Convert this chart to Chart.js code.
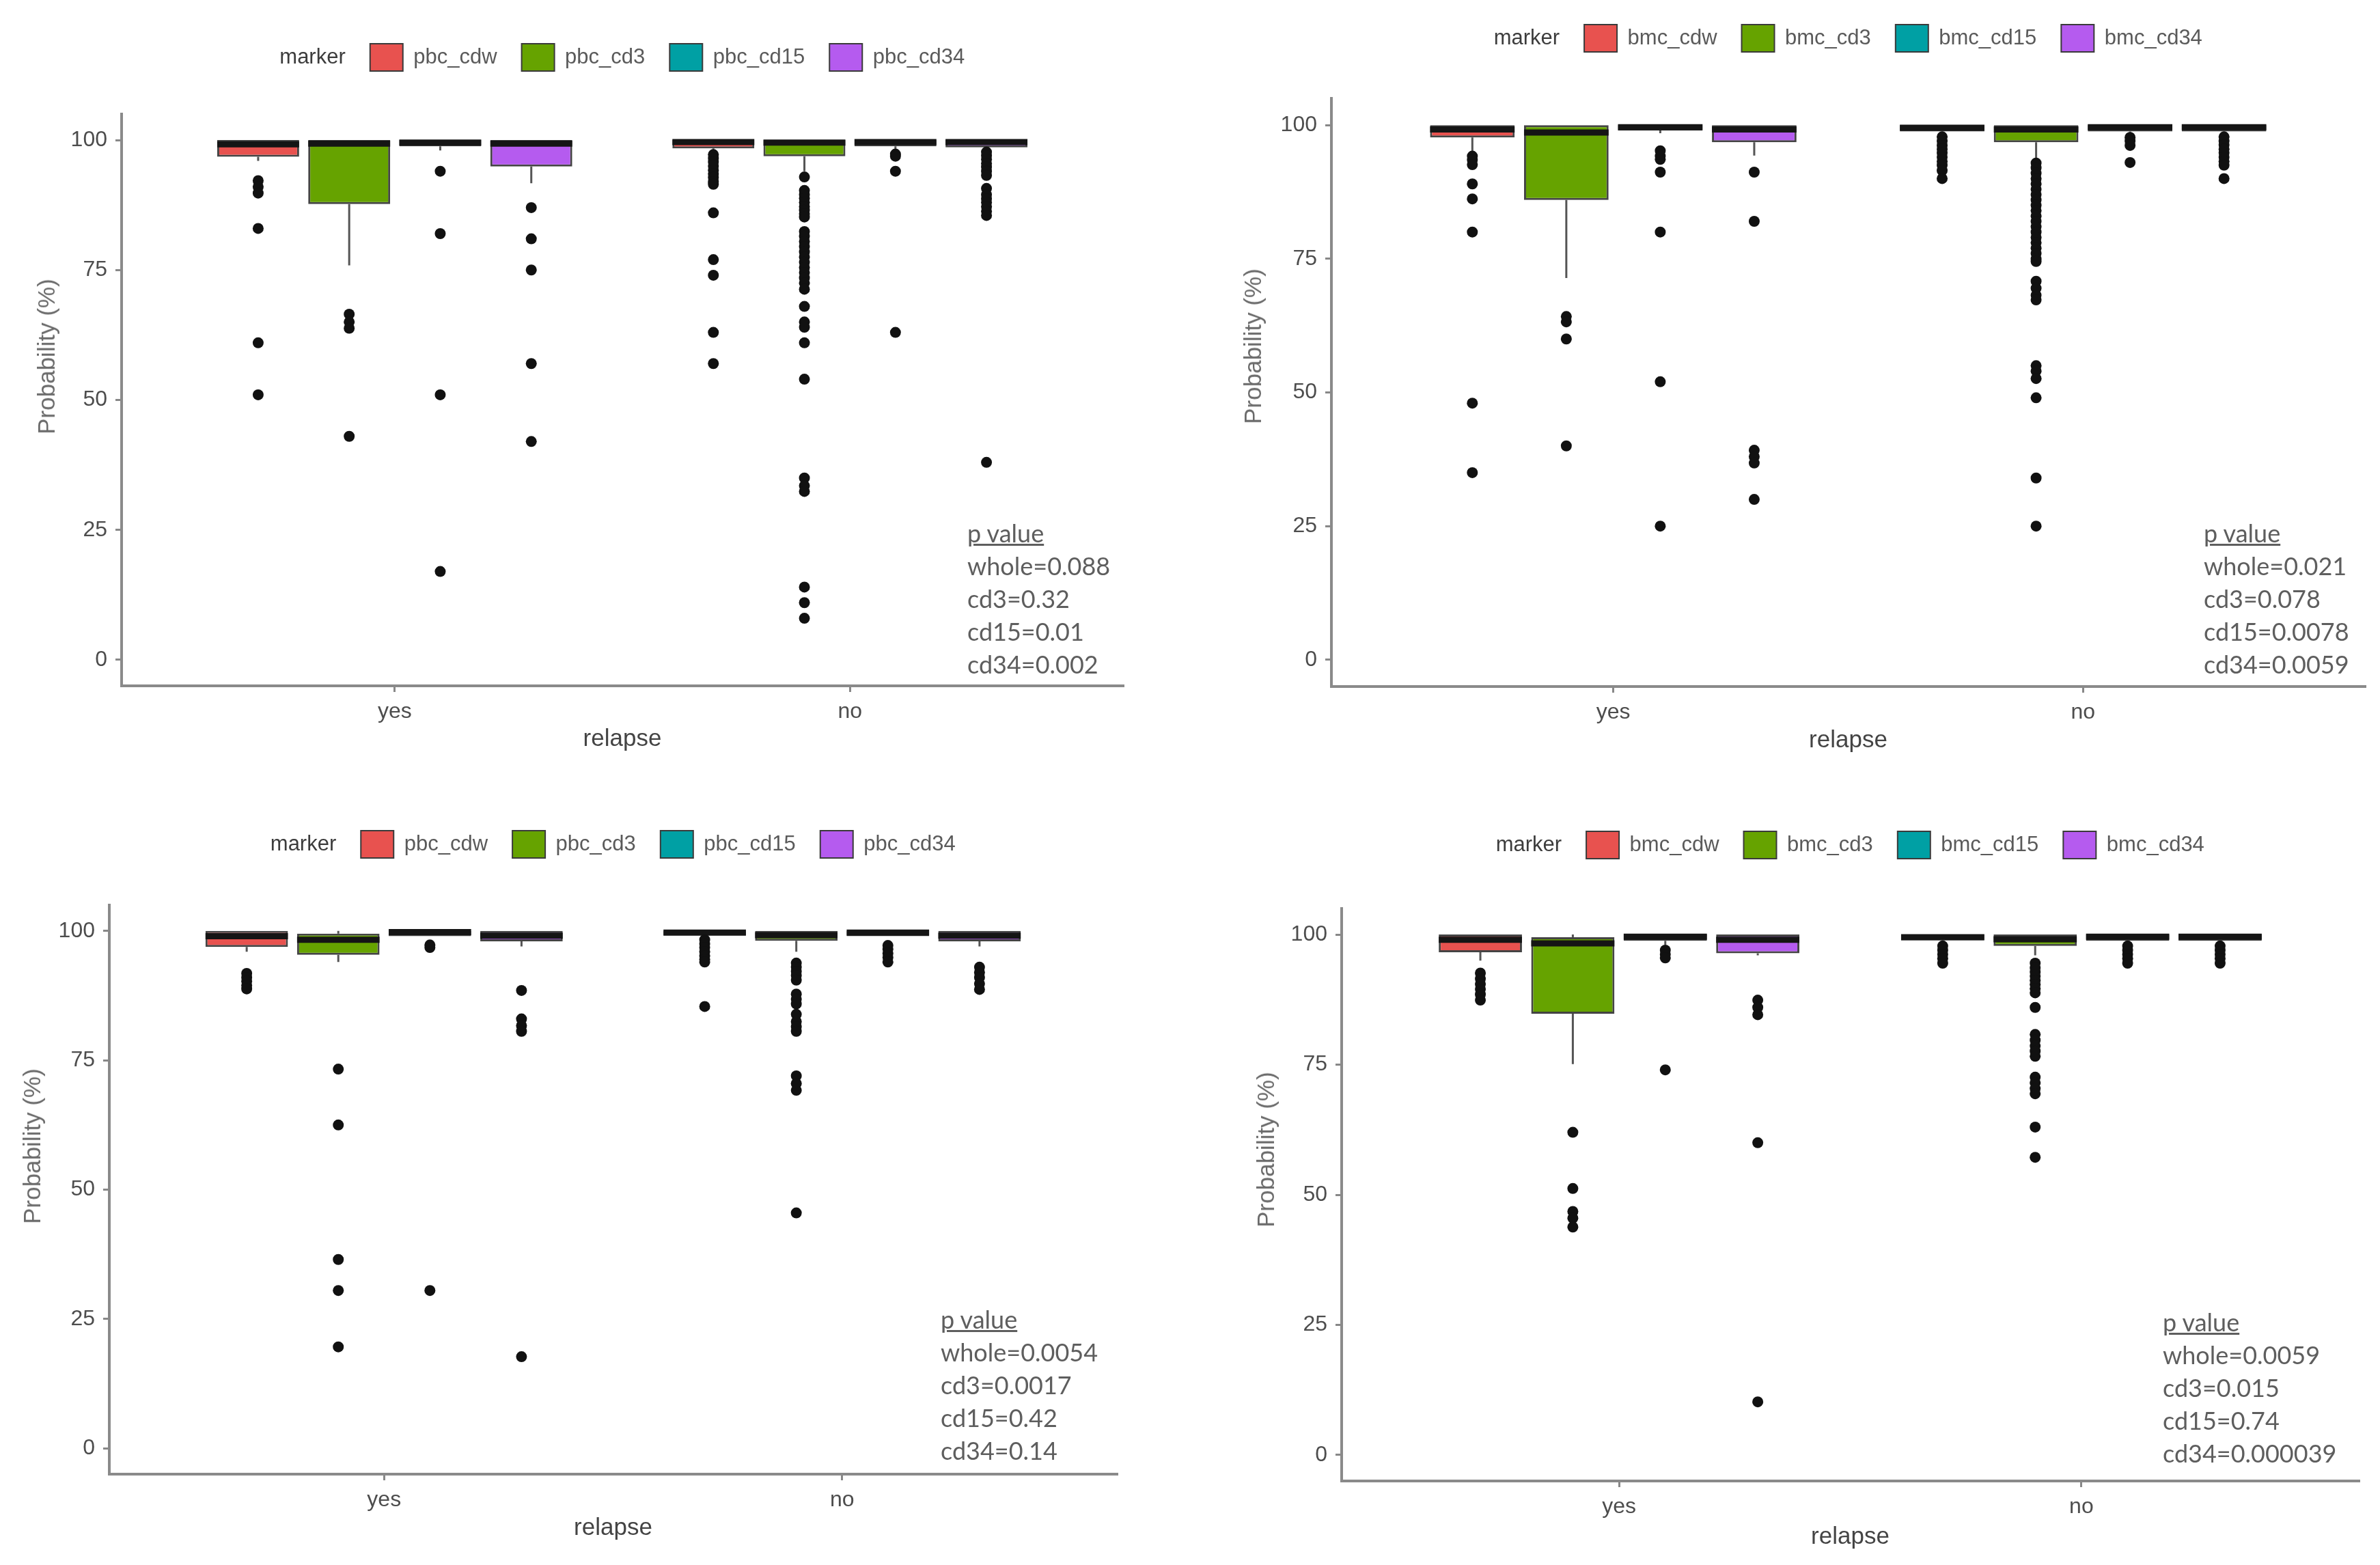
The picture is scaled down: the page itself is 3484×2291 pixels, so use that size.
<!DOCTYPE html>
<html>
<head>
<meta charset="utf-8">
<script src="https://cdn.jsdelivr.net/npm/chart.js@4"></script>
<style>
  html, body { margin: 0; padding: 0; background: #ffffff; width: 3484px; height: 2291px; overflow: hidden; }
  .panel { position: absolute; }
  .ytitle { position: absolute; transform: translate(-50%, -50%) rotate(-90deg); white-space: nowrap;
            font-family: "Liberation Sans", Arial, sans-serif; font-size: 35px; color: #6a6a6a; }
  .pval { position: absolute; font-family: "Lato", "Open Sans", sans-serif; font-size: 36px; line-height: 48px; color: #5e5e5e; white-space: nowrap; }
  .pval .head { text-decoration: underline; }
</style>
</head>
<body>
<script>
// ---------------- data ----------------
const groups = ['yes', 'no'];
const pbcMarkers = ['pbc_cdw', 'pbc_cd3', 'pbc_cd15', 'pbc_cd34'];
const bmcMarkers = ['bmc_cdw', 'bmc_cd3', 'bmc_cd15', 'bmc_cd34'];
const markerColors = ['#E8524F', '#66A300', '#00A0A4', '#B55BEF'];
const yTickValues = [0, 25, 50, 75, 100];

// box stats per marker: [lower whisker, Q1, median, Q3, upper whisker]
const pbcTopYesBox = [[96, 96.8, 99.2, 100, 100], [75.9, 87.7, 99.3, 100, 100], [98, 98.8, 99.5, 100, 100], [91.7, 94.9, 99.3, 100, 100]];
const pbcTopNoBox  = [[97.5, 98.4, 99.6, 100, 100], [94, 96.9, 99.5, 100, 100], [98, 98.8, 99.6, 100, 100], [98, 98.6, 99.6, 100, 100]];
const pbcTopYesOut = [[92.2, 91, 89.8, 83, 61, 51], [66.5, 65, 63.8, 43], [94, 82, 51, 17], [87, 81, 75, 57, 42]];
const pbcTopNoOut  = [
  [97.2, 96.5, 95.8, 95, 94.2, 93.5, 92.8, 92, 91.5, 86, 77, 74, 63, 57],
  [92.9, 90.3, 89.5, 88.8, 88, 87.2, 86.5, 85.8, 85.2, 82.4, 81.5, 80.5, 79.5, 78.5, 77.5, 76.5, 75.5, 74.5, 73.5, 72.5, 71.3, 68, 65, 64, 61, 54, 35, 33.5, 32.4, 14, 11, 8],
  [97.3, 96.9, 94, 63],
  [97.7, 97, 96.3, 95.5, 94.8, 94, 93.2, 90.7, 89.5, 88.7, 88, 87.2, 86.3, 85.5, 38]
];

const bmcTopYesBox = [[94.8, 97.7, 99.2, 100, 100], [71.4, 86, 98.6, 100, 100], [98.5, 99, 99.6, 100, 100], [94.3, 96.8, 99.2, 100, 100]];
const bmcTopNoBox  = [[98, 98.8, 99.5, 100, 100], [93.5, 96.8, 99.2, 100, 100], [98.5, 98.8, 99.6, 100, 100], [98.2, 98.8, 99.6, 100, 100]];
const bmcTopYesOut = [[94.2, 93.5, 92.6, 89, 86.2, 80, 48, 35], [64.2, 63.2, 60, 40], [95.2, 94.2, 93.6, 91.2, 80, 52, 25], [91.2, 82, 39.2, 38, 36.8, 30]];
const bmcTopNoOut  = [
  [97.8, 97, 96.2, 95.5, 94.8, 94, 93.2, 92.5, 91.5, 90],
  [92.9, 92, 91, 90, 89, 88, 87, 86, 85, 84, 83, 82, 81, 80, 79, 78, 77, 76, 75, 74.5, 70.8, 69.5, 68.2, 67.3, 55, 54, 52.6, 49, 34, 25],
  [97.7, 97, 96.2, 93],
  [97.8, 97, 96.3, 95.5, 94.8, 94, 93.2, 92.5, 90]
];

const pbcBotYesBox = [[96, 96.9, 99, 100, 100], [94, 95.4, 98.3, 99.5, 100], [99, 99, 99.8, 100, 100], [97, 98, 99.1, 100, 100]];
const pbcBotNoBox  = [[99, 99.2, 99.7, 100, 100], [96, 98.1, 99.2, 100, 100], [99, 99, 99.7, 100, 100], [97, 98, 99.1, 100, 100]];
const pbcBotYesOut = [[91.8, 91, 90.3, 89.5, 88.8], [73.3, 62.5, 36.5, 30.5, 19.6], [97.3, 96.8, 30.5], [88.5, 83, 81.7, 80.6, 17.7]];
const pbcBotNoOut  = [
  [98.3, 97.5, 96.8, 96, 95.2, 94.5, 94, 85.4],
  [93.8, 93, 92.2, 91.4, 90.5, 87.8, 86.8, 85.9, 83.9, 82.5, 81.5, 80.6, 72, 70.5, 69.2, 45.5],
  [97.2, 96.5, 95.7, 94.9, 94],
  [93, 92, 91, 89.8, 88.7]
];

const bmcBotYesBox = [[95, 96.6, 99, 100, 100], [75.1, 84.8, 98.3, 99.5, 100], [98, 98.8, 99.6, 100, 100], [96, 96.4, 99, 100, 100]];
const bmcBotNoBox  = [[98.5, 98.9, 99.5, 100, 100], [96, 97.8, 99.1, 100, 100], [98.5, 98.8, 99.6, 100, 100], [98.5, 98.8, 99.6, 100, 100]];
const bmcBotYesOut = [[92.6, 91.5, 90.5, 89.5, 88.5, 87.4], [62, 51.2, 46.8, 45.5, 43.8], [97, 96.2, 95.5, 74], [87.4, 86, 84.6, 60, 10.2]];
const bmcBotNoOut  = [
  [97.8, 97, 96.2, 95.4, 94.5],
  [94.5, 93.6, 92.8, 92, 91.2, 90.4, 89.6, 88.8, 86, 80.8, 79.7, 78.6, 77.6, 76.6, 72.6, 71.5, 70.4, 69.4, 63, 57.2],
  [97.8, 97, 96.2, 95.4, 94.5],
  [97.8, 97, 96.2, 95.4, 94.5]
];

const pTopLeft  = ['whole=0.088', 'cd3=0.32', 'cd15=0.01', 'cd34=0.002'];
const pTopRight = ['whole=0.021', 'cd3=0.078', 'cd15=0.0078', 'cd34=0.0059'];
const pBotLeft  = ['whole=0.0054', 'cd3=0.0017', 'cd15=0.42', 'cd34=0.14'];
const pBotRight = ['whole=0.0059', 'cd3=0.015', 'cd15=0.74', 'cd34=0.000039'];

// ---------------- layout (positions / styles) ----------------
const FONT = '"Liberation Sans", Arial, sans-serif';
const dodge = [-0.3, -0.1, 0.1, 0.3];
const halfBox = 0.09;

const panels = [
  { markers: pbcMarkers, box: [pbcTopYesBox, pbcTopNoBox], out: [pbcTopYesOut, pbcTopNoOut], p: pTopLeft,
    L: 0, T: 28, W: 1758, H: 1085, wy: 178, wy2: 114, gap: 53, hx: 109,
    yt: [68, 522], pv: [1416, 756] },
  { markers: bmcMarkers, box: [bmcTopYesBox, bmcTopNoBox], out: [bmcTopYesOut, bmcTopNoOut], p: pTopRight,
    L: 1770, T: 0, W: 1807, H: 1115, wy: 179, wy2: 115, gap: 58, hx: 110,
    yt: [1834, 507], pv: [3226, 756] },
  { markers: pbcMarkers, box: [pbcBotYesBox, pbcBotNoBox], out: [pbcBotYesOut, pbcBotNoOut], p: pBotLeft,
    L: 0, T: 1180, W: 1731, H: 1088, wy: 160, wy2: 96, gap: 59, hx: 110,
    yt: [47, 1678], pv: [1377, 1907] },
  { markers: bmcMarkers, box: [bmcBotYesBox, bmcBotNoBox], out: [bmcBotYesOut, bmcBotNoOut], p: pBotRight,
    L: 1780, T: 1181, W: 1793, H: 1100, wy: 184, wy2: 120, gap: 63, hx: 113,
    yt: [1853, 1683], pv: [3166, 1911] }
];

Chart.defaults.font.family = FONT;

function buildDatasets(boxes, outs) {
  const boxData = [], boxColors = [], whisk = [], med = [], pts = [];
  boxes.forEach((grp, gi) => grp.forEach((s, mi) => {
    const x = gi + 1 + dodge[mi];
    boxData.push({ x: x, y: [s[1], s[3]] });
    boxColors.push(markerColors[mi]);
    whisk.push({ x: x, y: s[0] }, { x: x, y: s[1] }, { x: x, y: null },
               { x: x, y: s[3] }, { x: x, y: s[4] }, { x: x, y: null });
    med.push({ x: x - halfBox, y: s[2] }, { x: x + halfBox, y: s[2] }, { x: x, y: null });
    outs[gi][mi].forEach(v => pts.push({ x: x, y: v }));
  }));
  return [
    { type: 'line', label: 'whiskers', data: whisk, borderColor: '#555555', borderWidth: 3, pointRadius: 0,
      spanGaps: false, fill: false, order: 3, xAxisID: 'x', yAxisID: 'y' },
    { type: 'bar', label: 'boxes', data: boxData, backgroundColor: boxColors, borderColor: '#444444', borderWidth: 3,
      borderSkipped: false, categoryPercentage: 1, barPercentage: 0.9, order: 2, xAxisID: 'x', yAxisID: 'y' },
    { type: 'line', label: 'medians', data: med, borderColor: '#151515', borderWidth: 9, borderCapStyle: 'butt',
      pointRadius: 0, spanGaps: false, fill: false, order: 1, xAxisID: 'x', yAxisID: 'y' },
    { type: 'scatter', label: 'outliers', data: pts, pointRadius: 8, pointBackgroundColor: '#111111',
      pointBorderWidth: 0, showLine: false, order: 0, xAxisID: 'x', yAxisID: 'y' }
  ];
}

panels.forEach((g, idx) => {
  const div = document.createElement('div');
  div.className = 'panel';
  div.style.left = g.L + 'px'; div.style.top = g.T + 'px';
  div.style.width = g.W + 'px'; div.style.height = g.H + 'px';
  const cv = document.createElement('canvas');
  div.appendChild(cv);
  document.body.appendChild(div);

  new Chart(cv, {
    type: 'scatter',
    data: { datasets: buildDatasets(g.box, g.out) },
    options: {
      responsive: true, maintainAspectRatio: false, animation: false,
      layout: { padding: 0 },
      plugins: {
        tooltip: { enabled: false },
        title: { display: false },
        legend: {
          display: true, position: 'top', align: 'center', onClick: null,
          labels: {
            font: { family: FONT, size: 31 }, color: '#5a5a5a',
            boxWidth: 48, boxHeight: 40, padding: 36,
            generateLabels: () => [{ text: 'marker', fillStyle: 'rgba(0,0,0,0)', strokeStyle: 'rgba(0,0,0,0)', lineWidth: 0, hidden: false, fontColor: '#3c3c3c' }]
              .concat(g.markers.map((m, i) => ({ text: m, fillStyle: markerColors[i], strokeStyle: '#3a3a3a', lineWidth: 2, hidden: false, fontColor: '#5a5a5a' })))
          }
        }
      },
      scales: {
        x: {
          type: 'linear', axis: 'x', position: 'bottom', min: 0.4, max: 2.6, offset: false,
          afterBuildTicks: s => { s.ticks = groups.map((_, i) => ({ value: i + 1 })); },
          afterFit: s => { s.height = g.hx; },
          ticks: { callback: v => groups[v - 1], font: { size: 32 }, color: '#4d4d4d', padding: 10, autoSkip: false, maxRotation: 0 },
          grid: { display: true, offset: false, drawOnChartArea: false, drawTicks: true, tickLength: 9, color: '#888888', lineWidth: 3 },
          border: { display: true, color: '#8a8a8a', width: 4 },
          title: { display: true, text: 'relapse', font: { size: 35 }, color: '#444444', padding: { top: 0, bottom: 10 } }
        },
        y: {
          type: 'linear', axis: 'y', position: 'left', min: -5, max: 105,
          afterBuildTicks: s => { s.ticks = yTickValues.map(v => ({ value: v })); },
          afterFit: s => { s.width = g.wy; },
          ticks: { font: { size: 32 }, color: '#4d4d4d', padding: 12 },
          grid: { display: true, offset: false, drawOnChartArea: false, drawTicks: true, tickLength: 9, color: '#888888', lineWidth: 3 },
          border: { display: true, color: '#8a8a8a', width: 4 },
          title: { display: false }
        },
        xTop: {
          type: 'linear', axis: 'x', position: 'top', display: true,
          ticks: { display: false }, grid: { display: false }, border: { display: false },
          afterFit: s => { s.height = g.gap; }
        },
        yRight: {
          type: 'linear', axis: 'y', position: 'right', display: true,
          ticks: { display: false }, grid: { display: false }, border: { display: false },
          afterFit: s => { s.width = g.wy2; }
        }
      }
    }
  });

  const yt = document.createElement('div');
  yt.className = 'ytitle';
  yt.textContent = 'Probability (%)';
  yt.style.left = g.yt[0] + 'px'; yt.style.top = g.yt[1] + 'px';
  document.body.appendChild(yt);

  const pv = document.createElement('div');
  pv.className = 'pval';
  pv.style.left = g.pv[0] + 'px'; pv.style.top = g.pv[1] + 'px';
  const head = document.createElement('div');
  head.className = 'head';
  head.textContent = 'p value';
  pv.appendChild(head);
  g.p.forEach(t => { const d = document.createElement('div'); d.textContent = t; pv.appendChild(d); });
  document.body.appendChild(pv);
});
</script>
</body>
</html>
